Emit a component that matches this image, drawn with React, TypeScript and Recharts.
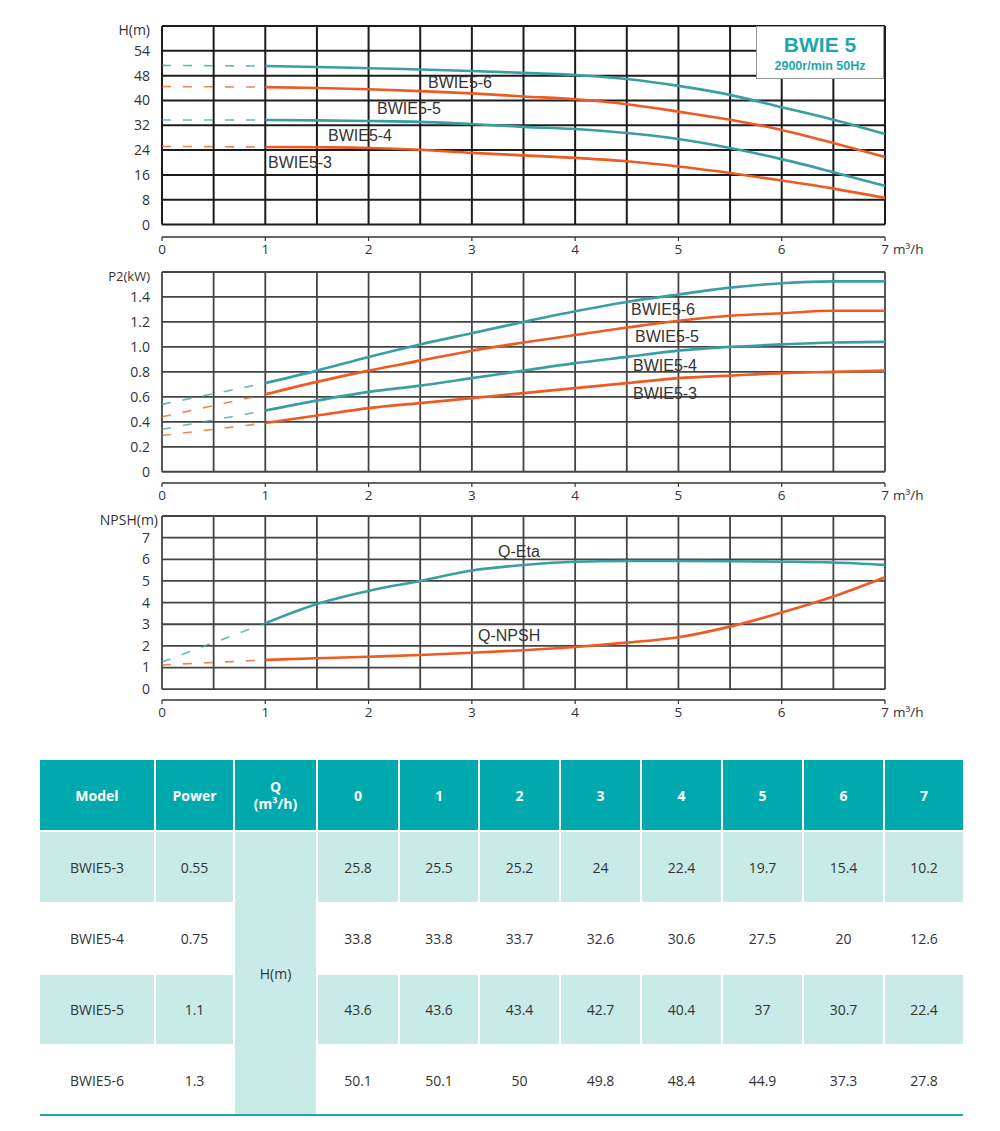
import { LineChart, Line, XAxis, YAxis, ReferenceLine } from "recharts";

const TEAL = "#3a9fa4";
const ORANGE = "#ee5a22";
const TABLE_TEAL = "#00a9ae";
const TABLE_LIGHT = "#c9ebe8";

// flow rate (m³/h) for the solid part of each curve
const FLOW = [1, 1.5, 2, 2.5, 3, 3.5, 4, 4.5, 5, 5.5, 6, 6.5, 7];
const Q_TICKS = [0, 1, 2, 3, 4, 5, 6, 7];
const Q_GRID = [0, 0.5, 1, 1.5, 2, 2.5, 3, 3.5, 4, 4.5, 5, 5.5, 6, 6.5, 7];

// head H(m)
const H_TICKS = [0, 8, 16, 24, 32, 40, 48, 56];
const H_TICK_LABELS = ["0", "8", "16", "24", "32", "40", "48", "54"];
const H_GRID = [0, 8, 16, 24, 32, 40, 48, 56, 64];
const H_START = [25.2, 33.7, 44.5, 51.3];
const H_3 = [25.0, 24.9, 24.7, 24.1, 23.1, 22.3, 21.5, 20.4, 18.7, 16.6, 14.2, 11.6, 8.6];
const H_4 = [33.7, 33.6, 33.4, 33.1, 32.4, 31.5, 30.8, 29.5, 27.6, 24.7, 21.1, 16.9, 12.5];
const H_5 = [44.3, 44.0, 43.6, 43.0, 42.3, 41.3, 40.4, 38.8, 36.4, 33.8, 30.5, 26.3, 21.8];
const H_6 = [51.1, 50.8, 50.4, 50.0, 49.5, 48.9, 48.2, 46.9, 44.7, 41.8, 37.8, 33.8, 29.2];

// power P2(kW)
const P_TICKS = [0, 0.2, 0.4, 0.6, 0.8, 1.0, 1.2, 1.4];
const P_TICK_LABELS = ["0", "0.2", "0.4", "0.6", "0.8", "1.0", "1.2", "1.4"];
const P_GRID = [0, 0.2, 0.4, 0.6, 0.8, 1.0, 1.2, 1.4, 1.6];
const P_START = [0.29, 0.34, 0.44, 0.54];
const P_3 = [0.39, 0.45, 0.51, 0.55, 0.59, 0.63, 0.67, 0.71, 0.75, 0.77, 0.79, 0.8, 0.81];
const P_4 = [0.49, 0.57, 0.64, 0.69, 0.75, 0.81, 0.87, 0.92, 0.97, 1.0, 1.02, 1.035, 1.04];
const P_5 = [0.62, 0.72, 0.81, 0.89, 0.97, 1.035, 1.095, 1.155, 1.21, 1.25, 1.27, 1.29, 1.29];
const P_6 = [0.71, 0.81, 0.92, 1.02, 1.11, 1.2, 1.285, 1.36, 1.42, 1.475, 1.51, 1.525, 1.525];

// NPSH(m) / efficiency
const N_TICKS = [0, 1, 2, 3, 4, 5, 6, 7];
const N_TICK_LABELS = ["0", "1", "2", "3", "4", "5", "6", "7"];
const N_GRID = [0, 1, 2, 3, 4, 5, 6, 7, 8];
const ETA_START = 1.25;
const NPSH_START = 1.12;
const ETA = [3.05, 3.94, 4.54, 5.0, 5.48, 5.74, 5.89, 5.92, 5.92, 5.91, 5.89, 5.85, 5.74];
const NPSH = [1.35, 1.43, 1.5, 1.58, 1.68, 1.8, 1.95, 2.15, 2.4, 2.89, 3.54, 4.28, 5.17];

// table
const MODELS = ["BWIE5-3", "BWIE5-4", "BWIE5-5", "BWIE5-6"];
const POWERS = ["0.55", "0.75", "1.1", "1.3"];
const TABLE_Q = ["0", "1", "2", "3", "4", "5", "6", "7"];
const TABLE_H = [
  ["25.8", "25.5", "25.2", "24", "22.4", "19.7", "15.4", "10.2"],
  ["33.8", "33.8", "33.7", "32.6", "30.6", "27.5", "20", "12.6"],
  ["43.6", "43.6", "43.4", "42.7", "40.4", "37", "30.7", "22.4"],
  ["50.1", "50.1", "50", "49.8", "48.4", "44.9", "37.3", "27.8"],
];
const COL_WIDTHS = [114, 79, 83, 82, 80, 81, 81, 81, 81, 81, 80];

type Series = { name: string; color: string; start: number; values: number[] };

const HEAD_SERIES: Series[] = [
  { name: "BWIE5-3", color: ORANGE, start: H_START[0], values: H_3 },
  { name: "BWIE5-4", color: TEAL, start: H_START[1], values: H_4 },
  { name: "BWIE5-5", color: ORANGE, start: H_START[2], values: H_5 },
  { name: "BWIE5-6", color: TEAL, start: H_START[3], values: H_6 },
];
const POWER_SERIES: Series[] = [
  { name: "BWIE5-3", color: ORANGE, start: P_START[0], values: P_3 },
  { name: "BWIE5-4", color: TEAL, start: P_START[1], values: P_4 },
  { name: "BWIE5-5", color: ORANGE, start: P_START[2], values: P_5 },
  { name: "BWIE5-6", color: TEAL, start: P_START[3], values: P_6 },
];
const NPSH_SERIES: Series[] = [
  { name: "Q-Eta", color: TEAL, start: ETA_START, values: ETA },
  { name: "Q-NPSH", color: ORANGE, start: NPSH_START, values: NPSH },
];

const AXIS_FONT = "'Open Sans', sans-serif";
const LABEL_FONT = "'Liberation Sans', Arial, sans-serif";

function QTick(props: any) {
  const { x, y, payload } = props;
  const last = payload.value === 7;
  return (
    <g>
      <text x={x} y={y + 1} dy="0.75em" textAnchor="middle" fill="#333" fontSize={13.5} fontFamily={AXIS_FONT}>
        {payload.value}
      </text>
      {last && (
        <text x={x + 8} y={y + 1} dy="0.75em" textAnchor="start" fill="#333" fontSize={13.5} fontFamily={AXIS_FONT}>
          m³/h
        </text>
      )}
    </g>
  );
}

type ChartProps = {
  top: number;
  plotHeight: number;
  yDomain: [number, number];
  yTicks: number[];
  yLabels: string[];
  yGrid: number[];
  series: Series[];
  gridColor: string;
  gridWidth: number;
};

function PumpChart({ top, plotHeight, yDomain, yTicks, yLabels, yGrid, series, gridColor, gridWidth }: ChartProps) {
  const yMax = yGrid[yGrid.length - 1];
  return (
    <div style={{ position: "absolute", left: 0, top }}>
      <LineChart width={1000} height={26 + plotHeight + 25} margin={{ top: 26, right: 115, bottom: 0, left: 0 }}>
        <XAxis
          type="number"
          dataKey="q"
          domain={[0, 7]}
          ticks={Q_TICKS}
          interval={0}
          height={25}
          axisLine={{ stroke: "#333", strokeWidth: 1.4 }}
          tickLine={{ stroke: "#333", strokeWidth: 1.2 }}
          tickSize={4}
          tick={<QTick />}
        />
        <YAxis
          type="number"
          domain={yDomain}
          ticks={yTicks}
          interval={0}
          width={162}
          axisLine={false}
          tickLine={false}
          tickSize={0}
          tickMargin={12}
          tickFormatter={(v: number, i: number) => yLabels[i]}
          tick={{ fill: "#333", fontSize: 14, fontFamily: AXIS_FONT }}
        />
        {yGrid.map((v) => (
          <ReferenceLine key={"h" + v} y={v} stroke={gridColor} strokeWidth={gridWidth} />
        ))}
        {Q_GRID.map((q) => (
          <ReferenceLine
            key={"v" + q}
            segment={[
              { x: q, y: 0 },
              { x: q, y: yMax },
            ]}
            stroke={gridColor}
            strokeWidth={gridWidth}
          />
        ))}
        {series.map((s) => (
          <Line
            key={s.name + "-dash"}
            data={[
              { q: 0, v: s.start },
              { q: FLOW[0], v: s.values[0] },
            ]}
            dataKey="v"
            stroke={s.color}
            strokeOpacity={0.75}
            strokeWidth={1.6}
            strokeDasharray="9 12"
            dot={false}
            isAnimationActive={false}
          />
        ))}
        {series.map((s) => (
          <Line
            key={s.name}
            data={FLOW.map((q, i) => ({ q, v: s.values[i] }))}
            dataKey="v"
            type="monotone"
            stroke={s.color}
            strokeWidth={2.6}
            dot={false}
            isAnimationActive={false}
          />
        ))}
      </LineChart>
    </div>
  );
}

function Note({ text, left, cy, size = 16 }: { text: string; left: number; cy: number; size?: number }) {
  return (
    <div
      style={{
        position: "absolute",
        left,
        top: cy - 9,
        lineHeight: "18px",
        fontSize: size,
        fontFamily: LABEL_FONT,
        color: "#333",
        whiteSpace: "nowrap",
      }}
    >
      {text}
    </div>
  );
}

function AxisTitle({ text, right, cy, size }: { text: string; right: number; cy: number; size: number }) {
  return (
    <div
      style={{
        position: "absolute",
        left: 0,
        width: right,
        textAlign: "right",
        top: cy - size / 2,
        lineHeight: size + "px",
        fontSize: size,
        fontFamily: AXIS_FONT,
        color: "#333",
        whiteSpace: "nowrap",
      }}
    >
      {text}
    </div>
  );
}

function Table() {
  const cell = (row: number, col: number, bg: string): React.CSSProperties => ({
    gridRow: row,
    gridColumn: col,
    background: bg,
    display: "flex",
    alignItems: "center",
    justifyContent: "center",
    textAlign: "center",
    borderLeft: col > 1 ? "2px solid #fff" : "none",
    borderTop: row > 1 ? "2px solid #fff" : "none",
    boxSizing: "border-box",
  });
  return (
    <div
      style={{
        position: "absolute",
        left: 40,
        top: 760,
        width: 923,
        display: "grid",
        gridTemplateColumns: COL_WIDTHS.map((w) => w + "px").join(" "),
        gridTemplateRows: "70px 72px 71px 71px 71px",
        fontFamily: AXIS_FONT,
        fontSize: 14,
        color: "#333",
      }}
    >
      <div style={{ ...cell(1, 1, TABLE_TEAL), color: "#fff", fontWeight: 700 }}>Model</div>
      <div style={{ ...cell(1, 2, TABLE_TEAL), color: "#fff", fontWeight: 700 }}>Power</div>
      <div style={{ ...cell(1, 3, TABLE_TEAL), color: "#fff", fontWeight: 700, lineHeight: "17px" }}>
        Q
        <br />
        (m³/h)
      </div>
      {TABLE_Q.map((q, i) => (
        <div key={"q" + q} style={{ ...cell(1, 4 + i, TABLE_TEAL), color: "#fff", fontWeight: 700 }}>
          {q}
        </div>
      ))}
      <div style={{ ...cell(2, 3, TABLE_LIGHT), gridRow: "2 / 6" }}>H(m)</div>
      {MODELS.map((m, r) => {
        const bg = r % 2 === 0 ? TABLE_LIGHT : "#fff";
        return [
          <div key={m + "m"} style={cell(2 + r, 1, bg)}>
            {m}
          </div>,
          <div key={m + "p"} style={cell(2 + r, 2, bg)}>
            {POWERS[r]}
          </div>,
          ...TABLE_H[r].map((v, c) => (
            <div key={m + c} style={cell(2 + r, 4 + c, bg)}>
              {v}
            </div>
          )),
        ];
      })}
    </div>
  );
}

export default function App() {
  return (
    <div style={{ position: "absolute", left: 0, top: 0, width: 1000, height: 1131, background: "#fff" }}>
      <PumpChart
        top={0}
        plotHeight={211}
        yDomain={[-4, 64]}
        yTicks={H_TICKS}
        yLabels={H_TICK_LABELS}
        yGrid={H_GRID}
        series={HEAD_SERIES}
        gridColor="#1c1c1c"
        gridWidth={2}
      />
      <PumpChart
        top={246}
        plotHeight={211}
        yDomain={[-0.09, 1.6]}
        yTicks={P_TICKS}
        yLabels={P_TICK_LABELS}
        yGrid={P_GRID}
        series={POWER_SERIES}
        gridColor="#444"
        gridWidth={1.8}
      />
      <PumpChart
        top={490}
        plotHeight={184}
        yDomain={[-0.5, 8]}
        yTicks={N_TICKS}
        yLabels={N_TICK_LABELS}
        yGrid={N_GRID}
        series={NPSH_SERIES}
        gridColor="#444"
        gridWidth={1.8}
      />

      <AxisTitle text="H(m)" right={150} cy={30} size={14} />
      <AxisTitle text="P2(kW)" right={150} cy={276} size={13} />
      <AxisTitle text="NPSH(m)" right={158} cy={520} size={14} />

      <Note text="BWIE5-6" left={428} cy={83} />
      <Note text="BWIE5-5" left={377} cy={109} />
      <Note text="BWIE5-4" left={328} cy={136} />
      <Note text="BWIE5-3" left={268} cy={163} />

      <Note text="BWIE5-6" left={631} cy={310} />
      <Note text="BWIE5-5" left={635} cy={337} />
      <Note text="BWIE5-4" left={633} cy={366} />
      <Note text="BWIE5-3" left={633} cy={394} />

      <Note text="Q-Eta" left={498} cy={552} />
      <Note text="Q-NPSH" left={478} cy={636} />

      <div
        style={{
          position: "absolute",
          left: 756,
          top: 26,
          width: 128,
          height: 53,
          background: "#fff",
          border: "1px solid #999",
          boxSizing: "border-box",
          textAlign: "center",
          fontFamily: LABEL_FONT,
          color: "#1ea7ab",
          fontWeight: 700,
        }}
      >
        <div style={{ fontSize: 21, lineHeight: "22px", marginTop: 7 }}>BWIE 5</div>
        <div style={{ fontSize: 12.5, lineHeight: "16px", marginTop: 2 }}>2900r/min 50Hz</div>
      </div>

      <Table />
      <div style={{ position: "absolute", left: 40, top: 1114, width: 923, height: 2, background: "#1aa9ae" }} />
    </div>
  );
}
